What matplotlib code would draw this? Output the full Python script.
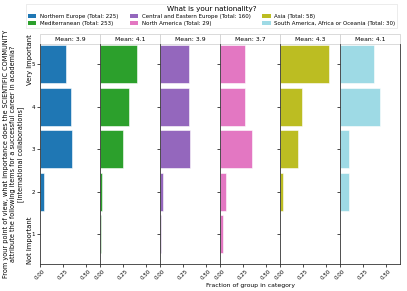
import matplotlib
matplotlib.use("Agg")
import matplotlib.pyplot as plt
from matplotlib.patches import Rectangle, Patch

groups = ["Northern Europe", "Mediterranean", "Central and Eastern Europe",
          "North America", "Asia", "South America, Africa or Oceania"]
totals = [225, 253, 160, 29, 58, 30]
means = ["3.9", "4.1", "3.9", "3.7", "4.3", "4.1"]
levels = [1, 2, 3, 4, 5]
# fractions for levels 1..5
fractions = [
    [0.000, 0.040, 0.347, 0.333, 0.280],
    [0.012, 0.024, 0.253, 0.312, 0.399],
    [0.013, 0.031, 0.325, 0.319, 0.313],
    [0.034, 0.069, 0.345, 0.276, 0.276],
    [0.000, 0.034, 0.190, 0.241, 0.534],
    [0.000, 0.100, 0.100, 0.433, 0.367],
]
colors = ["#1f77b4", "#2ca02c", "#9467bd", "#e377c2", "#bcbd22", "#9edae5"]
xticks = [0.0, 0.25, 0.5]
ylabel = ("From your point of view, what importance does the SCIENTIFIC COMMUNITY\n"
          "attribute the following items for a successful career in academia?\n"
          "[International collaborations]")

W, H = 407, 291
fig = plt.figure(figsize=(W / 100, H / 100), dpi=100)
left, right = 40 / W, 400 / W
bottom, top = 1 - 264 / H, 1 - 44 / H
n = len(groups)
pw = (right - left) / n
axes = []
for i in range(n):
    ax = fig.add_axes([left + i * pw, bottom, pw, top - bottom],
                      sharey=axes[0] if axes else None)
    axes.append(ax)
    ax.barh(levels, fractions[i], height=0.9, color=colors[i],
            edgecolor="white", linewidth=0.4)
    ax.set_xlim(0, 0.65)
    ax.set_ylim(0.3, 5.48)
    ax.set_xticks(xticks)
    ax.set_xticklabels([f"{t:.2f}" for t in xticks], rotation=45,
                       ha="center", fontsize=4)
    ax.tick_params(axis="both", length=2, width=0.5, pad=1.5, labelsize=4)
    for s in ax.spines.values():
        s.set_linewidth(0.6)
        s.set_color("#333333")
    ax.spines["top"].set_visible(False)
    ax.add_patch(Rectangle((0, 1.0), 1, 0.045, transform=ax.transAxes,
                           facecolor="white", edgecolor="#cccccc", lw=0.5,
                           clip_on=False))
    ax.text(0.5, 1.0225, f"Mean: {means[i]}", transform=ax.transAxes,
            ha="center", va="center", fontsize=4.4)
    if i > 0:
        ax.tick_params(axis="y", labelleft=False)

axes[0].set_yticks(levels)
axes[0].set_yticklabels([str(l) for l in levels])
axes[0].text(-0.17, 5.12, "Very Important", transform=axes[0].get_yaxis_transform(),
             rotation=90, ha="center", va="center", fontsize=4.9)
axes[0].text(-0.17, 0.86, "Not Important", transform=axes[0].get_yaxis_transform(),
             rotation=90, ha="center", va="center", fontsize=4.9)
axes[0].set_ylabel(ylabel, fontsize=4.7, linespacing=1.2)
axes[0].yaxis.set_label_coords(-0.27, 0.5)
axes[3].set_xlabel("Fraction of group in category", fontsize=4.4, labelpad=1.5)

handles = [Patch(facecolor=colors[i], label=f"{groups[i]} (Total: {totals[i]})")
           for i in range(n)]
leg = fig.legend(handles=handles, ncol=3, loc="lower left",
                 bbox_to_anchor=(23 / W, 1 - 31 / H, 377 / W, 28 / H),
                 mode="expand", fontsize=4, title="What is your nationality?",
                 title_fontsize=5.2, frameon=True, fancybox=False,
                 handlelength=1.5, handleheight=0.6, borderpad=0.4,
                 labelspacing=0.35, columnspacing=0.5, handletextpad=0.6)
leg.get_frame().set_linewidth(0.5)
leg.get_frame().set_edgecolor("#dddddd")

fig.savefig("out.png", dpi=100)
